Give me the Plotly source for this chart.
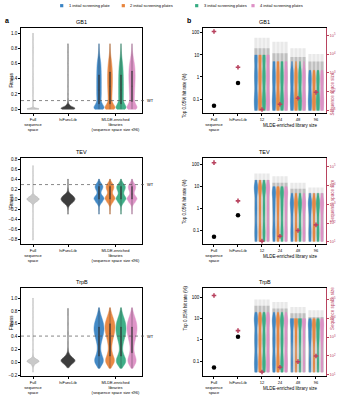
import numpy as np
import plotly.graph_objects as go

# ------------------------------------------------------------------ data
datasets = ['GB1', 'TEV', 'TrpB']
plate_labels = ['1 initial screening plate', '2 initial screening plates',
                '3 initial screening plates', '4 initial screening plates']
a_tick_labels = ['Full<br>sequence<br>space', 'hiFuncLib',
                 'MLDE-enriched<br>libraries<br>(sequence space size ≤96)']
b_tick_labels = ['Full<br>sequence<br>space', 'hiFuncLib', '12', '24', '48', '96']

wt_fitness = [0.113, 0.29, 0.41]

# panel a: fitness distributions given as value levels and counts
gb1_full_lv = [0.0, 0.005, 0.01, 0.02, 0.04, 0.08, 0.15, 0.3, 0.5, 0.7, 0.85, 1.0]
gb1_full_ct = [400, 300, 150, 50, 15, 6, 3, 2, 1, 1, 1, 1]
gb1_hif_lv = [0.0, 0.01, 0.02, 0.04, 0.06, 0.09, 0.13, 0.2, 0.3, 0.45, 0.6, 0.75, 0.86]
gb1_hif_ct = [50, 60, 50, 30, 15, 6, 3, 2, 1, 1, 1, 1, 1]
gb1_mlde_lv = [0.0, 0.02, 0.04, 0.07, 0.1, 0.15, 0.2, 0.25, 0.3, 0.35, 0.4, 0.45,
               0.5, 0.55, 0.6, 0.65, 0.7, 0.75, 0.8, 0.86]
gb1_mlde_ct = [
    [40, 45, 35, 22, 26, 32, 34, 34, 34, 34, 34, 33, 32, 30, 27, 20, 12, 6, 3, 1],
    [40, 45, 35, 22, 24, 28, 30, 32, 34, 36, 36, 36, 34, 31, 26, 20, 12, 6, 3, 1],
    [36, 42, 35, 24, 28, 34, 34, 34, 34, 34, 33, 32, 30, 27, 22, 16, 10, 6, 3, 1],
    [32, 38, 32, 22, 26, 30, 32, 34, 36, 38, 40, 40, 39, 36, 30, 22, 14, 7, 3, 1],
]

tev_full_lv = [-0.82, -0.6, -0.4, -0.25, -0.15, -0.08, -0.04, 0.0, 0.04, 0.08, 0.15, 0.25, 0.4, 0.55, 0.67]
tev_full_ct = [1, 1, 1, 2, 4, 20, 70, 110, 70, 20, 4, 2, 1, 1, 1]
tev_hif_lv = [-0.3, -0.2, -0.14, -0.09, -0.05, 0.0, 0.05, 0.09, 0.14, 0.2, 0.3, 0.4]
tev_hif_ct = [2, 3, 8, 25, 50, 70, 50, 25, 8, 4, 2, 2]
tev_mlde_lv = [-0.3, -0.2, -0.12, -0.06, 0.0, 0.05, 0.1, 0.15, 0.2, 0.25, 0.3, 0.35, 0.4]
tev_mlde_ct = [
    [1, 2, 5, 20, 30, 22, 10, 10, 18, 22, 15, 5, 1],
    [1, 2, 5, 18, 28, 22, 12, 12, 18, 20, 15, 5, 1],
    [1, 2, 5, 18, 28, 20, 12, 14, 20, 22, 14, 5, 1],
    [1, 2, 5, 20, 30, 20, 10, 12, 18, 20, 14, 5, 1],
]

trpb_full_lv = [-0.15, -0.08, -0.04, 0.0, 0.02, 0.04, 0.07, 0.12, 0.2, 0.35, 0.5, 0.7, 0.85, 1.0]
trpb_full_ct = [1, 5, 30, 80, 100, 80, 30, 8, 3, 2, 1, 1, 1, 1]
trpb_hif_lv = [-0.08, -0.04, 0.0, 0.03, 0.06, 0.1, 0.14, 0.2, 0.3, 0.45, 0.6, 0.75, 0.84]
trpb_hif_ct = [5, 25, 50, 60, 50, 25, 10, 4, 2, 2, 1, 1, 1]
trpb_mlde_lv = [-0.09, -0.04, 0.0, 0.05, 0.1, 0.15, 0.2, 0.25, 0.3, 0.35, 0.4, 0.45,
                0.5, 0.55, 0.6, 0.65, 0.7, 0.75, 0.8, 0.85]
trpb_mlde_ct = [
    [2, 8, 16, 18, 12, 8, 6, 6, 8, 11, 14, 17, 19, 19, 17, 14, 10, 6, 3, 1],
    [2, 8, 16, 18, 12, 8, 6, 6, 8, 10, 13, 16, 18, 19, 18, 15, 11, 7, 3, 1],
    [2, 9, 17, 18, 12, 7, 5, 6, 8, 11, 14, 17, 18, 18, 17, 14, 10, 6, 3, 1],
    [2, 8, 15, 17, 12, 8, 7, 7, 9, 12, 15, 17, 19, 19, 18, 15, 11, 7, 3, 1],
]

# panel b: top 0.05% hit rate (%) distributions (levels + counts per library size)
hit_levels = [0.03, 0.06, 0.1, 0.2, 0.5, 1, 2, 5, 10, 20]
gb1_hit_ct = [[3, 3, 3, 3, 3, 3, 3, 3, 3, 0], [3, 3, 3, 3, 3, 3, 3, 3, 0, 0],
              [3, 3, 3, 3, 3, 3, 3, 1, 0, 0], [3, 3, 3, 3, 3, 3, 2, 0, 0, 0]]
tev_hit_ct = [[3, 3, 3, 3, 3, 3, 3, 4, 7, 1], [3, 3, 3, 3, 3, 3, 4, 7, 3, 0],
              [3, 3, 3, 3, 3, 4, 7, 3, 0, 0], [3, 3, 3, 3, 3, 4, 7, 2, 0, 0]]
trpb_hit_ct = [[3, 3, 3, 3, 3, 3, 3, 3, 5, 2], [3, 3, 3, 3, 3, 3, 3, 4, 5, 1],
               [2, 2, 2, 2, 2, 3, 3, 5, 6, 0], [2, 2, 2, 2, 2, 3, 4, 6, 3, 0]]
# upper range of individual runs (%)
gb1_run_max = [60, 40, 20, 11]
gb1_run_upper = [20, 12, 8, 5]
tev_run_max = [40, 30, 15, 9]
tev_run_upper = [20, 15, 8, 5]
trpb_run_max = [80, 60, 35, 25]
trpb_run_upper = [40, 30, 18, 12]
# reference libraries: Full sequence space, hiFuncLib
gb1_ref_hit = [0.05, 0.53]
tev_ref_hit = [0.05, 0.49]
trpb_ref_hit = [0.05, 1.4]
# sequence space size: Full, hiFuncLib, MLDE 12, 24, 48, 96
gb1_space = [160000, 2000, 11, 21, 44, 91]
tev_space = [160000, 1500, 11, 20, 40, 80]
trpb_space = [160000, 2200, 14, 25, 50, 100]

# ------------------------------------------------------------------ style
W, H = 340, 400
FONT = 'Liberation Sans, Arial, sans-serif'
colors = ['#3a84c4', '#e8843c', '#36ab82', '#de90c6']
RED = '#b8435f'
a_pos = [0, 3.5]
a_mlde_pos = [6.6, 7.7, 8.8, 9.9]
b_pos = [0, 1, 2, 2.75, 3.5, 4.25]
b_off = [-0.25, -0.083, 0.083, 0.25]
row_px = [(27, 113), (158, 245), (289, 378)]
left_px, right_px = (21, 142), (203, 326)
a_ranges = [[-0.052, 1.069], [-0.899, 0.824], [-0.211, 1.158]]
b_ranges = [[-1.64, 2.23], [-1.64, 2.32], [-1.71, 2.45]]
b2_ranges = [[0.85, 5.4], [0.88, 5.46], [0.93, 5.61]]
a_bw = [(0.008, 0.015, 0.03), (0.025, 0.03, 0.03), (0.02, 0.03, 0.04)]

a_data = [
    (gb1_full_lv, gb1_full_ct, gb1_hif_lv, gb1_hif_ct, gb1_mlde_lv, gb1_mlde_ct),
    (tev_full_lv, tev_full_ct, tev_hif_lv, tev_hif_ct, tev_mlde_lv, tev_mlde_ct),
    (trpb_full_lv, trpb_full_ct, trpb_hif_lv, trpb_hif_ct, trpb_mlde_lv, trpb_mlde_ct),
]
b_data = [
    (gb1_hit_ct, gb1_run_max, gb1_run_upper, gb1_ref_hit, gb1_space),
    (tev_hit_ct, tev_run_max, tev_run_upper, tev_ref_hit, tev_space),
    (trpb_hit_ct, trpb_run_max, trpb_run_upper, trpb_ref_hit, trpb_space),
]


def sfx(k):
    return '' if k == 1 else str(k)


def fnt(size, color='black'):
    return dict(family=FONT, size=size, color=color)


fig = go.Figure()
layout = dict(width=W, height=H, margin=dict(l=0, r=0, t=0, b=0),
              paper_bgcolor='white', plot_bgcolor='white', showlegend=False,
              barmode='overlay', violingap=0, violinmode='overlay',
              font=fnt(5))
shapes, annots = [], []

tickfont = fnt(4.5)
axis_common = dict(showline=True, linecolor='black', linewidth=0.6, ticks='outside',
                   ticklen=2, tickwidth=0.5, tickcolor='black', showgrid=False,
                   zeroline=False, tickfont=tickfont)

for r, ds in enumerate(datasets):
    ka, kb, k2 = 2 * r + 1, 2 * r + 2, 7 + r
    ytop, ybot = row_px[r]
    ydom = [1 - ybot / H, 1 - ytop / H]
    xa, ya = 'x' + sfx(ka), 'y' + sfx(ka)
    xb, yb, y2 = 'x' + sfx(kb), 'y' + sfx(kb), 'y' + sfx(k2)

    # ---------------- panel a
    full_lv, full_ct, hif_lv, hif_ct, mlde_lv, mlde_ct = a_data[r]
    bwf, bwh, bwm = a_bw[r]
    fig.add_trace(go.Violin(x0=a_pos[0], y=np.repeat(full_lv, full_ct), xaxis=xa, yaxis=ya,
                            width=1.2, bandwidth=bwf, spanmode='hard', scalemode='width',
                            fillcolor='#c9c9c9', line=dict(color='#b0b0b0', width=0.6),
                            points=False, hoverinfo='skip', opacity=1))
    fig.add_trace(go.Violin(x0=a_pos[1], y=np.repeat(hif_lv, hif_ct), xaxis=xa, yaxis=ya,
                            width=1.4, bandwidth=bwh, spanmode='hard', scalemode='width',
                            fillcolor='#3d3d3d', line=dict(color='#5a5a5a', width=0.6),
                            points=False, hoverinfo='skip', opacity=1))
    for c in range(4):
        fig.add_trace(go.Violin(x0=a_mlde_pos[c], y=np.repeat(mlde_lv, mlde_ct[c]),
                                xaxis=xa, yaxis=ya, width=1.0, bandwidth=bwm,
                                spanmode='hard', scalemode='width',
                                fillcolor=colors[c], line=dict(color=colors[c], width=0.5),
                                points=False, hoverinfo='skip', opacity=0.95,
                                box=dict(visible=True, width=0.08, fillcolor='#262626',
                                         line=dict(color='#262626', width=0.4)),
                                meanline=dict(visible=False)))
    layout['xaxis' + sfx(ka)] = dict(axis_common, domain=[left_px[0] / W, left_px[1] / W],
                                     anchor=ya, range=[-1.2, 10.9], mirror=True,
                                     tickvals=[a_pos[0], a_pos[1], float(np.mean(a_mlde_pos))],
                                     ticktext=a_tick_labels, tickfont=fnt(4))
    layout['yaxis' + sfx(ka)] = dict(axis_common, domain=ydom, anchor=xa, range=a_ranges[r],
                                     dtick=0.2, tick0=0, tickformat='.1f', mirror=True)
    shapes.append(dict(type='line', xref=xa + ' domain', yref=ya, x0=0, x1=1.02,
                       y0=wt_fitness[r], y1=wt_fitness[r],
                       line=dict(color='#555555', width=0.7, dash='dot')))
    annots.append(dict(xref=xa + ' domain', yref=ya, x=1.025, y=wt_fitness[r], text='WT',
                       showarrow=False, xanchor='left', yanchor='middle', font=fnt(4)))

    # ---------------- panel b
    hit_ct, run_max, run_upper, ref_hit, space = b_data[r]
    floor = np.log10(hit_levels[0])
    col_x = [b_pos[2 + g] + b_off[c] for g in range(4) for c in range(4)]
    for vals, alpha in ((run_max, 0.12), (run_upper, 0.25)):
        tops = [np.log10(vals[g]) for g in range(4) for c in range(4)]
        fig.add_trace(go.Bar(x=col_x, y=[t - floor for t in tops], base=floor,
                             xaxis=xb, yaxis=yb, width=0.135,
                             marker=dict(color='rgba(70,70,70,%.2f)' % alpha, line=dict(width=0)),
                             hoverinfo='skip'))
    for g in range(4):
        samples = np.log10(np.repeat(hit_levels, hit_ct[g]))
        for c in range(4):
            fig.add_trace(go.Violin(x0=b_pos[2 + g] + b_off[c], y=samples, xaxis=xb, yaxis=yb,
                                    width=0.15, bandwidth=0.2, spanmode='hard',
                                    scalemode='width', fillcolor=colors[c],
                                    line=dict(color=colors[c], width=0.3),
                                    points=False, hoverinfo='skip', opacity=0.95))
    fig.add_trace(go.Scatter(x=b_pos[:2], y=np.log10(ref_hit), xaxis=xb, yaxis=yb,
                             mode='markers', marker=dict(color='black', size=4.5),
                             hoverinfo='skip'))
    fig.add_trace(go.Scatter(x=b_pos, y=np.log10(space), xaxis=xb, yaxis=y2,
                             mode='markers',
                             marker=dict(color=RED, size=3.8, symbol='cross', line=dict(width=0)),
                             hoverinfo='skip'))
    layout['xaxis' + sfx(kb)] = dict(axis_common, domain=[right_px[0] / W, right_px[1] / W],
                                     anchor=yb, range=[-0.458, 4.667], mirror=True,
                                     tickvals=b_pos, ticktext=b_tick_labels, tickfont=fnt(4))
    layout['yaxis' + sfx(kb)] = dict(axis_common, domain=ydom, anchor=xb, range=b_ranges[r],
                                     tickvals=[-1, 0, 1, 2], ticktext=['0.1', '1', '10', '100'],
                                     mirror=False)
    layout['yaxis' + sfx(k2)] = dict(axis_common, overlaying=yb, anchor=xb, side='right',
                                     range=b2_ranges[r], linecolor=RED, tickcolor=RED,
                                     tickvals=[1, 2, 3, 4, 5],
                                     ticktext=['10<sup>%d</sup>' % e for e in range(1, 6)],
                                     tickfont=fnt(4, RED))

    # titles / labels
    for xpx in (left_px, right_px):
        annots.append(dict(xref='paper', yref='paper', x=(xpx[0] + xpx[1]) / 2 / W,
                           y=1 - (ytop - 1) / H, text=ds, showarrow=False,
                           xanchor='center', yanchor='bottom', font=fnt(5.5)))
    ymid = 1 - (ytop + ybot) / 2 / H
    annots.append(dict(xref='paper', yref='paper', x=7 / W, y=ymid, text='Fitness',
                       textangle=-90, showarrow=False, font=fnt(4.5)))
    annots.append(dict(xref='paper', yref='paper', x=185 / W, y=ymid,
                       text='Top 0.05% hit rate (%)', textangle=-90, showarrow=False,
                       font=fnt(4.5)))
    annots.append(dict(xref='paper', yref='paper', x=337 / W, y=ymid,
                       text='Sequence space size', textangle=-90, showarrow=False,
                       font=fnt(4.5, RED)))
    annots.append(dict(xref='paper', yref='paper', x=290 / W, y=1 - (ybot + 8) / H,
                       text='MLDE-enriched library size', showarrow=False,
                       xanchor='center', yanchor='top', font=fnt(4.5)))

# panel letters
for txt, xpx in (('a', 3), ('b', 185)):
    annots.append(dict(xref='paper', yref='paper', x=xpx / W, y=1 - 14 / H, text='<b>%s</b>' % txt,
                       showarrow=False, xanchor='left', font=fnt(7)))

# legend (top)
leg_sq = [61.7, 123.3, 196.7, 253.0]
for c in range(4):
    shapes.append(dict(type='rect', xref='paper', yref='paper',
                       x0=(leg_sq[c] - 1.6) / W, x1=(leg_sq[c] + 1.6) / W,
                       y0=1 - 6.3 / H, y1=1 - 3.1 / H,
                       fillcolor=colors[c], line=dict(width=0)))
    annots.append(dict(xref='paper', yref='paper', x=(leg_sq[c] + 5) / W, y=1 - 4.7 / H,
                       text=plate_labels[c], showarrow=False, xanchor='left', yanchor='middle',
                       font=fnt(4)))

layout['shapes'] = shapes
layout['annotations'] = annots
fig.update_layout(**layout)
fig.write_html('out.html')
